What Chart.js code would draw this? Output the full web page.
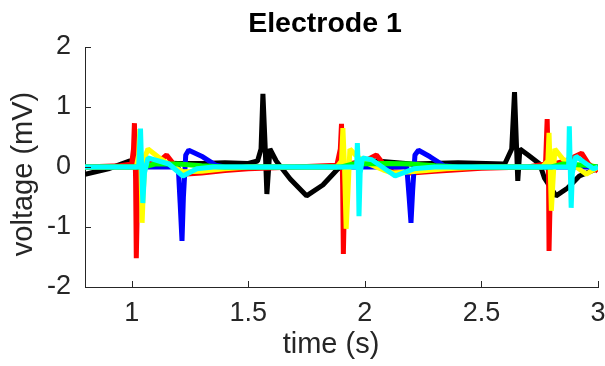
<!DOCTYPE html>
<html>
<head>
<meta charset="utf-8">
<script src="https://cdn.jsdelivr.net/npm/chart.js@4/dist/chart.umd.min.js"></script>
<style>
  html, body { margin: 0; padding: 0; background: #fff; }
  #wrap { width: 605px; height: 366px; }
</style>
</head>
<body>
<div id="wrap"><canvas id="graficoEletrodo" width="605" height="366"></canvas></div>
<script>
// traces (time in s, voltage in mV)
const blackT = [0.8, 0.9, 0.99, 1.1, 1.2, 1.3, 1.4, 1.5, 1.54, 1.555, 1.563, 1.572, 1.58, 1.593, 1.62, 1.68, 1.75, 1.82, 1.885, 1.95, 2.05, 2.2, 2.4, 2.6, 2.63, 2.642, 2.65, 2.656, 2.665, 2.7, 2.75, 2.77, 2.82, 2.87, 2.92, 3.0];
const blackV = [-0.12, -0.03, 0.1, 0.07, 0.06, 0.06, 0.07, 0.06, 0.1, 0.3, 1.22, 0.4, -0.45, 0.3, 0.1, -0.2, -0.48, -0.3, -0.03, 0.06, 0.1, 0.05, 0.07, 0.05, 0.3, 1.25, 0.4, -0.23, 0.3, 0.2, 0.05, -0.18, -0.48, -0.35, -0.15, -0.02];

const redT = [0.8, 0.95, 1.0, 1.008, 1.012, 1.017, 1.02, 1.026, 1.04, 1.08, 1.12, 1.15, 1.18, 1.22, 1.3, 1.4, 1.5, 1.7, 1.88, 1.895, 1.9, 1.905, 1.908, 1.914, 1.93, 2.0, 2.05, 2.08, 2.12, 2.2, 2.3, 2.5, 2.7, 2.775, 2.782, 2.788, 2.79, 2.796, 2.81, 2.86, 2.93, 2.96, 3.0];
const redV = [0.0, 0.02, 0.05, 0.3, 0.73, -0.2, -1.52, -0.3, 0.05, 0.08, 0.1, 0.2, 0.05, -0.12, -0.1, -0.06, -0.03, 0.0, 0.03, 0.3, 0.72, -0.3, -1.45, -0.3, 0.05, 0.1, 0.2, 0.05, -0.08, -0.1, -0.07, -0.02, 0.0, 0.05, 0.8, -0.2, -1.4, -0.3, 0.05, 0.1, 0.23, 0.05, -0.07];

const blueT = [0.8, 1.2, 1.208, 1.216, 1.222, 1.232, 1.245, 1.3, 1.36, 1.4, 2.18, 2.19, 2.198, 2.205, 2.215, 2.23, 2.28, 2.34, 2.4, 3.0];
const blueV = [0.0, 0.0, -0.6, -1.23, -0.5, 0.2, 0.28, 0.18, 0.03, 0.0, 0.0, -0.5, -0.93, -0.4, 0.2, 0.28, 0.17, 0.02, 0.0, 0.0];

const yellowT = [0.8, 1.02, 1.03, 1.035, 1.04, 1.045, 1.05, 1.06, 1.07, 1.12, 1.18, 1.22, 1.3, 1.4, 1.5, 1.88, 1.9, 1.906, 1.913, 1.92, 1.928, 1.936, 1.96, 2.0, 2.08, 2.12, 2.2, 2.35, 2.5, 2.76, 2.785, 2.79, 2.795, 2.8, 2.806, 2.815, 2.85, 2.9, 2.95, 3.0];
const yellowV = [0.0, 0.0, 0.2, 0.63, 0.0, -0.93, -0.4, 0.2, 0.3, 0.15, 0.0, -0.08, -0.07, -0.03, 0.0, 0.0, 0.1, 0.65, 0.0, -1.03, -0.4, 0.3, 0.2, 0.08, -0.05, -0.1, -0.08, -0.03, 0.0, 0.0, 0.1, 0.57, 0.0, -0.73, -0.3, 0.3, 0.13, 0.02, -0.12, 0.0];

const greenT = [0.8, 1.05, 1.1, 1.2, 1.3, 1.4, 1.9, 1.95, 2.1, 2.2, 2.3, 2.4, 2.8, 2.85, 2.95, 3.0];
const greenV = [0.0, 0.0, 0.05, 0.05, 0.02, 0.0, 0.0, 0.05, 0.06, 0.05, 0.02, 0.0, 0.0, 0.05, 0.03, 0.0];

const cyanT = [0.8, 1.03, 1.038, 1.043, 1.048, 1.055, 1.07, 1.1, 1.16, 1.22, 1.28, 1.35, 1.94, 1.965, 1.968, 1.972, 1.975, 1.98, 1.99, 2.03, 2.13, 2.21, 2.3, 2.85, 2.874, 2.877, 2.881, 2.885, 2.89, 2.905, 2.94, 2.98, 3.0];
const cyanV = [0.0, 0.0, 0.64, 0.0, -0.6, -0.1, 0.15, 0.12, 0.05, -0.15, -0.03, 0.0, 0.0, 0.0, 0.4, 0.0, -0.82, -0.1, 0.15, 0.12, -0.15, -0.03, 0.0, 0.0, 0.0, 0.68, 0.0, -0.68, -0.1, 0.18, 0.08, -0.03, 0.0];

const xTicks = [1, 1.5, 2, 2.5, 3];
const yTicks = [-2, -1, 0, 1, 2];

const fonte = '"Liberation Sans", Arial, Helvetica, sans-serif';
const cinza = '#262626';

function serie(t, v, cor, ordem) {
  return {
    data: t.map((x, i) => ({ x: x, y: v[i] })),
    borderColor: cor,
    borderWidth: 5,
    pointRadius: 0,
    tension: 0,
    fill: false,
    borderJoinStyle: 'bevel',
    order: ordem
  };
}

// MATLAB style: ticks point into the plot, titles placed like the figure
const estiloMatlab = {
  id: 'estiloMatlab',
  afterDraw(chart) {
    const ctx = chart.ctx;
    const xs = chart.scales.x, ys = chart.scales.y;
    ctx.save();
    ctx.strokeStyle = cinza;
    ctx.lineWidth = 1;
    ctx.beginPath();
    xTicks.forEach(v => {
      const px = Math.round(xs.getPixelForValue(v)) + 0.5;
      ctx.moveTo(px, ys.bottom);
      ctx.lineTo(px, ys.bottom - 6);
    });
    yTicks.forEach(v => {
      const py = Math.round(ys.getPixelForValue(v)) + 0.5;
      ctx.moveTo(xs.left, py);
      ctx.lineTo(xs.left + 6, py);
    });
    ctx.stroke();

    ctx.textAlign = 'center';
    ctx.textBaseline = 'alphabetic';
    ctx.fillStyle = '#000';
    ctx.font = 'bold 28.5px ' + fonte;
    ctx.fillText('Electrode 1', 325, 32);

    ctx.fillStyle = cinza;
    ctx.font = '29px ' + fonte;
    ctx.fillText('time (s)', 331, 353);

    ctx.translate(32, 174);
    ctx.rotate(-Math.PI / 2);
    ctx.fillText('voltage (mV)', 0, 0);
    ctx.restore();
  }
};

document.addEventListener('DOMContentLoaded', () => {
  const ctx = document.getElementById('graficoEletrodo').getContext('2d');

  new Chart(ctx, {
    type: 'line',
    data: {
      datasets: [
        serie(blackT, blackV, '#000000', 6),
        serie(redT, redV, '#ff0000', 5),
        serie(blueT, blueV, '#0000ff', 4),
        serie(yellowT, yellowV, '#ffff00', 3),
        serie(greenT, greenV, '#00ff00', 2),
        serie(cyanT, cyanV, '#00ffff', 1)
      ]
    },
    options: {
      responsive: false,
      animation: false,
      layout: { padding: { top: 47, left: 0, right: 0, bottom: 0 } },
      plugins: {
        legend: { display: false },
        tooltip: { enabled: false },
        title: { display: false }
      },
      scales: {
        x: {
          type: 'linear',
          min: 0.8,
          max: 3,
          afterBuildTicks: s => { s.ticks = xTicks.map(v => ({ value: v })); },
          afterFit: s => { s.height = 79; s.paddingLeft = 0; s.paddingRight = 7; },
          grid: { display: false, drawTicks: false },
          border: { display: true, color: cinza, width: 1 },
          ticks: { color: cinza, font: { family: fonte, size: 27 }, padding: 10, maxRotation: 0, callback: v => String(v) }
        },
        y: {
          min: -2,
          max: 2,
          afterBuildTicks: s => { s.ticks = yTicks.map(v => ({ value: v })); },
          afterFit: s => { s.width = 85; },
          grid: { display: false, drawTicks: false },
          border: { display: true, color: cinza, width: 1 },
          ticks: { color: cinza, font: { family: fonte, size: 27 }, padding: 14, callback: v => String(v) }
        }
      }
    },
    plugins: [estiloMatlab]
  });
});
</script>
</body>
</html>
